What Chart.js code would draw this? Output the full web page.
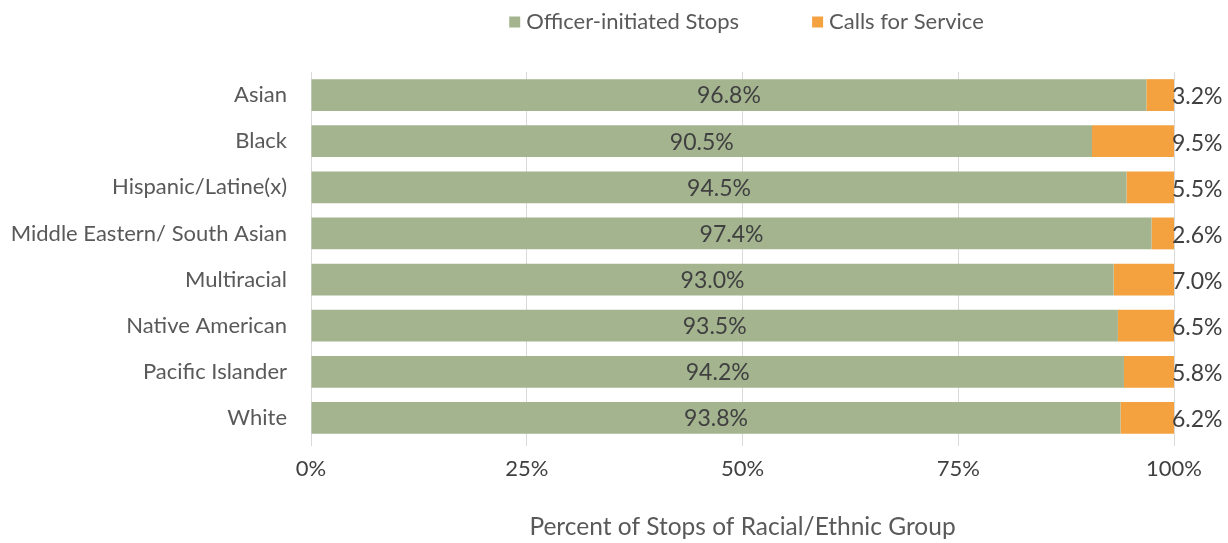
<!DOCTYPE html>
<html><head><meta charset="utf-8">
<script src="https://cdn.jsdelivr.net/npm/chart.js@4"></script>
<style>html,body{margin:0;padding:0;background:#fff}#wrap{width:1228px;height:543px}</style>
</head><body><div id="wrap"><canvas id="c" width="1228" height="543"></canvas></div>
<script>
const categories = ["Asian","Black","Hispanic/Latine(x)","Middle Eastern/ South Asian","Multiracial","Native American","Pacific Islander","White"];
const officerInitiated = [96.8, 90.5, 94.5, 97.4, 93.0, 93.5, 94.2, 93.8];
const callsForService = [3.2, 9.5, 5.5, 2.6, 7.0, 6.5, 5.8, 6.2];
const xTicks = [0, 25, 50, 75, 100];
const FONT = "Lato, 'Open Sans', sans-serif";
const TXT = '#404040';
const AX = '#595959';

const labelPlugin = {
  id: 'labels',
  afterDatasetsDraw(chart) {
    const ctx = chart.ctx;
    ctx.save();
    ctx.font = '23px ' + FONT;
    ctx.fillStyle = TXT;
    ctx.textBaseline = 'middle';
    chart.data.datasets.forEach((ds, di) => {
      const meta = chart.getDatasetMeta(di);
      meta.data.forEach((bar, i) => {
        const v = ds.data[i].toFixed(1) + '%';
        if (di === 0) {
          ctx.textAlign = 'center';
          ctx.fillText(v, (bar.base + bar.x) / 2, bar.y + 1);
        } else {
          ctx.textAlign = 'left';
          ctx.fillText(v, bar.x - 2, bar.y + 2);
        }
      });
    });
    ctx.restore();
  }
};

const legendPlugin = {
  id: 'customLegend',
  afterDraw(chart) {
    const ctx = chart.ctx;
    const ca = chart.chartArea;
    ctx.save();
    ctx.font = '22px ' + FONT;
    ctx.textBaseline = 'middle';
    ctx.textAlign = 'left';
    const box = 11, gapBox = 6, gapItem = 73;
    const items = chart.data.datasets.map(ds => ({ text: ds.label, color: ds.backgroundColor, w: ctx.measureText(ds.label).width }));
    let total = 0;
    items.forEach((it, i) => { total += box + gapBox + it.w + (i < items.length - 1 ? gapItem : 0); });
    let x = (ca.left + ca.right) / 2 + 4 - total / 2;
    const y = 22;
    items.forEach(it => {
      ctx.fillStyle = it.color;
      ctx.fillRect(x, y - box / 2, box, box);
      x += box + gapBox;
      ctx.fillStyle = AX;
      ctx.fillText(it.text, x, y);
      x += it.w + gapItem;
    });
    ctx.restore();
  }
};

new Chart(document.getElementById('c'), {
  type: 'bar',
  data: {
    labels: categories,
    datasets: [
      { label: 'Officer-initiated Stops', data: officerInitiated, backgroundColor: '#a3b48f', categoryPercentage: 0.69, barPercentage: 1 },
      { label: 'Calls for Service', data: callsForService, backgroundColor: '#f4a240', categoryPercentage: 0.69, barPercentage: 1 }
    ]
  },
  options: {
    indexAxis: 'y',
    responsive: false,
    animation: false,
    devicePixelRatio: 1,
    layout: { padding: { left: 0, right: 54, top: 72, bottom: 0 } },
    plugins: {
      legend: { display: false },
      tooltip: { enabled: false }
    },
    scales: {
      x: {
        stacked: true, min: 0, max: 100,
        afterBuildTicks(s) { s.ticks = xTicks.map(v => ({ value: v })); },
        afterFit(s) { s.height = 102; },
        ticks: { callback: v => v + '%', color: TXT, font: { family: FONT, size: 22 }, padding: 10, maxRotation: 0 },
        grid: { color: '#d9d9d9', drawTicks: true, tickLength: 5, tickColor: '#d9d9d9' },
        border: { display: false },
        title: { display: true, text: 'Percent of Stops of Racial/Ethnic Group', color: AX, font: { family: FONT, size: 24.5 }, padding: { top: 30, bottom: 1 } }
      },
      y: {
        stacked: true,
        afterFit(s) { s.width = 311; },
        ticks: { color: AX, font: { family: FONT, size: 22 }, padding: 24 },
        grid: { display: false, drawTicks: false },
        border: { display: false }
      }
    }
  },
  plugins: [labelPlugin, legendPlugin]
});
</script></body></html>
